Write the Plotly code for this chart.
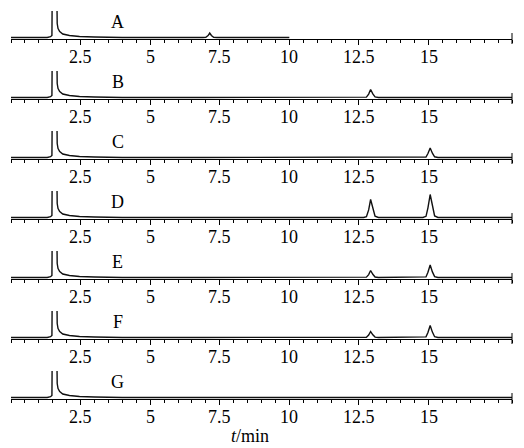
import plotly.graph_objects as go

# ---------------- data ----------------
panel_labels = ["A", "B", "C", "D", "E", "F", "G"]

time_min = [0.0, 1.30, 1.42, 1.47, 1.49, 1.63, 1.66, 1.69, 1.75, 1.86, 2.10, 2.46, 3.00, 4.00,
            6.90, 7.00, 7.08, 7.14, 7.20, 7.28, 7.40,
            10.00,
            12.67, 12.77, 12.85, 12.92, 13.00, 13.08, 13.20,
            14.80, 14.91, 14.98, 15.06, 15.14, 15.22, 15.34,
            18.00]

solvent = [0, 0, 0.8, 2, 80, 80, 14, 9, 6, 3.5, 2, 1, 0.5, 0]

signal_A = solvent + [0, 0.2, 1.9, 4.5, 2.0, 0.3, 0] + [0] + [None] * 7 + [None] * 7 + [None]
signal_B = solvent + [0] * 7 + [0] + [0, 0.4, 3.4, 8.0, 3.6, 0.6, 0] + [0] * 7 + [0]
signal_C = solvent + [0] * 7 + [0] + [0] * 7 + [0, 0.5, 4.0, 9.5, 4.3, 0.7, 0] + [0]
signal_D = solvent + [0] * 7 + [0] + [0, 0.9, 7.6, 18.0, 8.1, 1.3, 0] + [0, 1.2, 9.7, 23.0, 10.4, 1.6, 0] + [0]
signal_E = solvent + [0] * 7 + [0] + [0, 0.4, 2.9, 7.0, 3.2, 0.5, 0] + [0, 0.6, 5.3, 12.5, 5.6, 0.9, 0] + [0]
signal_F = solvent + [0] * 7 + [0] + [0, 0.3, 2.5, 6.0, 2.7, 0.4, 0] + [0, 0.6, 5.0, 12.0, 5.4, 0.8, 0] + [0]
signal_G = solvent + [0] * 7 + [0] + [0] * 7 + [0] * 7 + [0]

signals = [signal_A, signal_B, signal_C, signal_D, signal_E, signal_F, signal_G]

tick_values = [2.5, 5, 7.5, 10, 12.5, 15, 17.5]
tick_labels = ["2.5", "5", "7.5", "10", "12.5", "15", ""]
x_title = "<i>t</i>/min"

# ---------------- figure ----------------
OFF = 8                       # page body margin of the html page (top/left)
W, H = 524 - 2 * OFF, 448 - OFF
ML = 11.4 - OFF
MR = W - (512.5 - OFF)
font_family = "Liberation Serif, Times New Roman, serif"
FS = 18

fig = go.Figure()
layout = dict(
    width=W, height=H,
    margin=dict(l=ML, r=MR, t=0, b=0, pad=0),
    paper_bgcolor="white", plot_bgcolor="white",
    showlegend=False,
    font=dict(family=font_family, size=FS, color="black"),
)
shapes = []
annotations = []

panel_h = 28
for i, (lab, sig) in enumerate(zip(panel_labels, signals)):
    axis_px = 39 + 60 * i - OFF
    y0 = 1 - axis_px / H
    y1 = 1 - (axis_px - panel_h) / H
    xn = "x" if i == 0 else f"x{i+1}"
    yn = "y" if i == 0 else f"y{i+1}"
    xk = "xaxis" if i == 0 else f"xaxis{i+1}"
    yk = "yaxis" if i == 0 else f"yaxis{i+1}"
    fig.add_trace(go.Scatter(x=time_min, y=sig, mode="lines", xaxis=xn, yaxis=yn,
                             line=dict(color="#111111", width=1.4),
                             connectgaps=False, hoverinfo="skip"))
    layout[xk] = dict(domain=[0, 1], anchor=yn, range=[0, 18],
                      showline=True, linecolor="black", linewidth=1,
                      ticks="outside", ticklen=5, tickwidth=1, tickcolor="black",
                      tickmode="array", tickvals=tick_values, ticktext=tick_labels,
                      showticklabels=False,
                      minor=dict(ticks="outside", ticklen=3, tickwidth=1, tickcolor="black",
                                 tickmode="linear", tick0=0, dtick=0.5),
                      showgrid=False, zeroline=False, automargin=False)
    layout[yk] = dict(domain=[y0, y1], anchor=xn, range=[-1.5, panel_h - 1.5],
                      visible=False, fixedrange=True)
    # tick labels
    for tv, tt in zip(tick_values, tick_labels):
        if tt:
            annotations.append(dict(text=tt, xref=xn, yref="paper", x=tv,
                                    y=1 - (axis_px + 18) / H,
                                    xanchor="center", yanchor="middle", showarrow=False,
                                    font=dict(family=font_family, size=FS, color="black")))
    # right-end cap of the time axis
    shapes.append(dict(type="line", xref="paper", yref="paper", x0=1, x1=1,
                       y0=1 - (axis_px + 5) / H, y1=1 - (axis_px - 6) / H,
                       line=dict(color="black", width=1)))
    annotations.append(dict(text=lab, xref="paper", yref="paper",
                            x=3.83 / 18, y=1 - (axis_px - 17) / H,
                            xanchor="center", yanchor="middle", showarrow=False,
                            font=dict(family=font_family, size=FS, color="black")))

annotations.append(dict(text=x_title, xref="paper", yref="paper",
                        x=(250 - 11.4) / (512.5 - 11.4), y=1 - (436 - OFF) / H,
                        xanchor="center", yanchor="middle", showarrow=False,
                        font=dict(family=font_family, size=FS, color="black")))

layout["shapes"] = shapes
layout["annotations"] = annotations
fig.update_layout(**layout)
fig.write_html("out.html")
